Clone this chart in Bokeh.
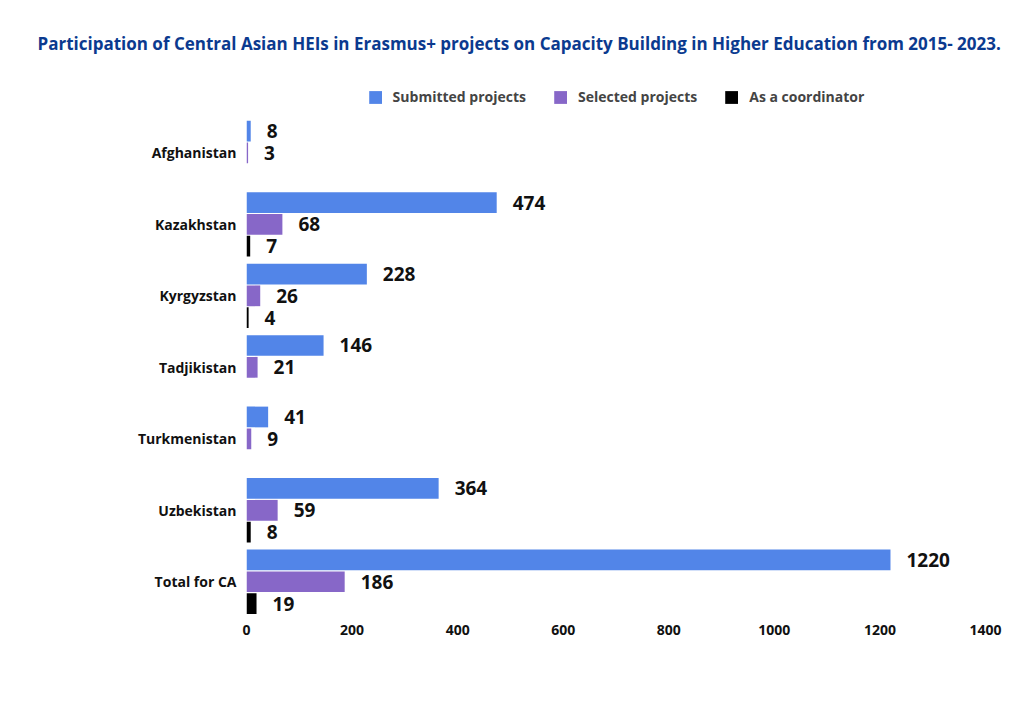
from bokeh.plotting import figure
from bokeh.models import ColumnDataSource, Legend, LegendItem, Range1d, FixedTicker
from bokeh.transform import dodge
from bokeh.core.properties import value
from bokeh.embed import file_html
from bokeh.resources import INLINE

categories = ["Afghanistan", "Kazakhstan", "Kyrgyzstan", "Tadjikistan", "Turkmenistan", "Uzbekistan", "Total for CA"]
submitted = [8, 474, 228, 146, 41, 364, 1220]
selected = [3, 68, 26, 21, 9, 59, 186]
coordinator = [None, 7, 4, None, None, 8, 19]
x_ticks = [0, 200, 400, 600, 800, 1000, 1200, 1400]

FONT = "Open Sans"
C_SUB = "#5285E8"
C_SEL = "#8767C8"
C_COO = "#000000"

n = len(categories)
ypos = {c: n - 1 - i for i, c in enumerate(categories)}

p = figure(width=1008, height=708, output_backend="svg", toolbar_location=None,
           x_range=Range1d(0, 1400), y_range=Range1d(-0.5, 6.97),
           min_border_left=246, min_border_right=23, min_border_top=80, min_border_bottom=91,
           title="Participation of Central Asian HEIs in Erasmus+ projects on Capacity Building in Higher Education from 2015- 2023.")
p.outline_line_color = None
p.xgrid.grid_line_color = None
p.ygrid.grid_line_color = None

p.title.text_font = FONT
p.title.text_font_size = "17px"
p.title.text_font_style = "bold"
p.title.text_color = "#0B3A8F"
p.title.align = "left"
p.title.offset = -209
p.title.standoff = 58

def src(vals):
    pairs = [(ypos[c], v) for c, v in zip(categories, vals) if v is not None]
    return ColumnDataSource(dict(y=[a for a, _ in pairs], val=[b for _, b in pairs],
                                 lab=[str(b) for _, b in pairs]))

series = [(submitted, C_SUB, 0.305, "Submitted projects"),
          (selected, C_SEL, 0.0, "Selected projects"),
          (coordinator, C_COO, -0.305, "As a coordinator")]
items = []
for vals, col, off, name in series:
    s = src(vals)
    r = p.hbar(y=dodge("y", off), left=0, right="val", height=0.29,
               source=s, fill_color=col, line_color=None)
    p.text(x="val", y=dodge("y", off), text="lab", source=s,
           x_offset=16, text_baseline="middle", text_align="left",
           text_font=value(FONT), text_font_style="bold", text_font_size="19px", text_color="#111111")
    items.append(LegendItem(label=name, renderers=[r]))

legend = Legend(items=items, orientation="horizontal", location="top_center",
                glyph_width=16, glyph_height=16, label_standoff=10, spacing=26,
                label_text_font=FONT, label_text_font_style="bold", label_text_font_size="14px",
                border_line_color=None, background_fill_alpha=0, padding=4, margin=4)
p.add_layout(legend)

p.xaxis.ticker = FixedTicker(ticks=x_ticks)
p.yaxis.ticker = FixedTicker(ticks=[ypos[c] for c in categories])
p.yaxis.major_label_overrides = {ypos[c]: c for c in categories}
for ax in (p.xaxis[0], p.yaxis[0]):
    ax.axis_line_color = None
    ax.major_tick_line_color = None
    ax.minor_tick_line_color = None
    ax.major_label_text_font = FONT
    ax.major_label_text_font_style = "bold"
    ax.major_label_text_font_size = "14px"
    ax.major_label_text_color = "#111111"
p.yaxis.major_label_standoff = 4
p.xaxis.major_label_standoff = 1

open("out.html", "w").write(file_html(p, INLINE))
